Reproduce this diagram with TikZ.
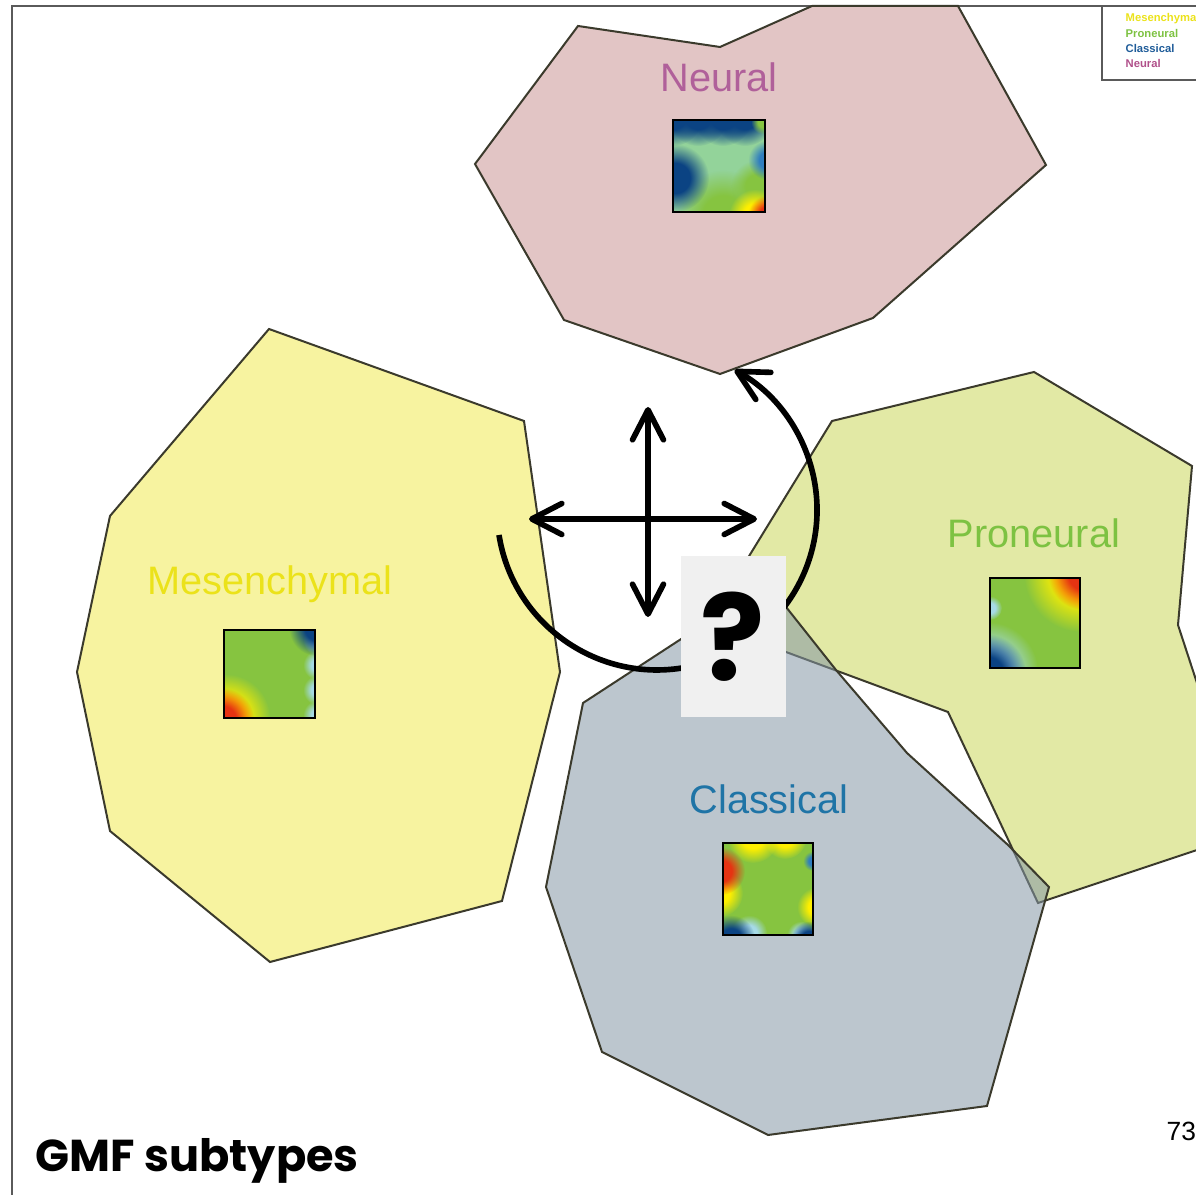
\documentclass[tikz,border=0pt]{standalone}
\usepackage{fontspec}
\setmainfont{Liberation Sans}
\newfontfamily\handfont{Poppins}
\usetikzlibrary{arrows.meta, fadings}

\definecolor{neuralfill}{HTML}{E2C5C5}
\definecolor{mesenfill}{HTML}{F7F3A0}
\definecolor{pronfill}{HTML}{E2E9A5}
\definecolor{classfill}{HTML}{8597A6}
\definecolor{hulledge}{HTML}{3B3A2C}
\definecolor{neuraltext}{HTML}{B0609A}
\definecolor{mesentext}{HTML}{EBE21A}
\definecolor{prontext}{HTML}{7DC242}
\definecolor{classtext}{HTML}{1F74A6}
\definecolor{keyblue}{HTML}{1F5C99}
\definecolor{keypink}{HTML}{B0508A}
\definecolor{framegray}{HTML}{5A5A5A}
\definecolor{qgray}{HTML}{F0F0F0}
% heat map palette
\definecolor{heatred}{HTML}{E63312}
\definecolor{heatyellow}{HTML}{FFEF00}
\definecolor{heatgreen}{HTML}{86C440}
\definecolor{heatmint}{HTML}{93D39A}
\definecolor{heatcyan}{HTML}{A6DAE6}
\definecolor{heatblue}{HTML}{2F7DBF}
\definecolor{heatdeep}{HTML}{0B4383}

% soft round spot: opaque core, fading rim
\pgfdeclareradialshading{heatmask}{\pgfpointorigin}{color(0bp)=(white); color(11bp)=(white); color(25bp)=(black); color(50bp)=(black)}
\pgfdeclarefading{heatfade}{\pgfuseshading{heatmask}}

\tikzset{
  hull/.style={draw=hulledge, line width=0.57pt},
  subtype/.style={font=\fontsize{11.3}{13}\selectfont, anchor=base, inner sep=0pt},
  keyentry/.style={font=\fontsize{3.2}{4}\selectfont\bfseries, anchor=base west, inner sep=0pt},
  blob/.style={path fading=heatfade},
  heatedge/.style={draw=black, line width=0.6pt},
  swirl/.style={line width=1.6pt, black},
  qbox/.style={fill=qgray, minimum width=10.5mm, minimum height=16.1mm, inner sep=0pt,
    font=\handfont\bfseries\fontsize{34}{36}\selectfont},
}

\begin{document}
\begin{tikzpicture}[x=0.1mm, y=-0.1mm, >={Straight Barb[length=3mm, width=3.1mm, round]}]
  \useasboundingbox (0,0) rectangle (1196,1195);
  \clip (0,0) rectangle (1196,1195);

  % slide frame and key box
  \draw[framegray, line width=0.55pt] (12,1195) -- (12,6) -- (1196,6);
  \draw[framegray, line width=0.55pt] (1102,6) -- (1102,80) -- (1196,80);

  % subtype hulls
  \filldraw[hull, fill=neuralfill] (578,26) -- (720,47) -- (812,6) -- (958,6) -- (1046,165)
    -- (873,318) -- (720,374) -- (564,320) -- (475,164) -- cycle;
  \filldraw[hull, fill=mesenfill] (269,329) -- (524,421) -- (560,672) -- (502,901) -- (270,962)
    -- (110,831) -- (77,672) -- (110,516) -- cycle;
  \filldraw[hull, fill=pronfill] (832,421) -- (1034,372) -- (1192,466) -- (1178,625) -- (1215,738)
    -- (1215,844) -- (1038,903) -- (948,712) -- (786,652) -- (708,623) -- cycle;
  \filldraw[hull, fill=classfill, fill opacity=0.55] (583,703) -- (767,583) -- (836,670) -- (907,753)
    -- (1008,845) -- (1049,887) -- (987,1106) -- (768,1135) -- (602,1052) -- (546,887) -- cycle;

  % heat maps
  \begin{scope}[shift={(673,120)}]
    \clip (0,0) rectangle (92,92);
    \fill[heatmint] (0,0) rectangle (92,92);
    \fill[heatgreen, blob] (50,96) circle[radius=46];
    \fill[heatgreen, blob] (84,66) circle[radius=26];
    \foreach \x in {0,25,50,72}{\fill[heatdeep, blob] (\x,-4) circle[radius=30];}
    \fill[heatdeep, blob] (2,58) circle[radius=34];
    \fill[heatblue, blob] (95,40) circle[radius=20];
    \fill[heatgreen, blob] (90,2) circle[radius=12];
    \fill[heatyellow, blob] (82,95) circle[radius=26];
    \fill[heatred, blob] (95,95) circle[radius=20];
  \end{scope}
  \draw[heatedge] (673,120) rectangle +(92,92);

  \begin{scope}[shift={(224,630)}]
    \clip (0,0) rectangle (91,88);
    \fill[heatgreen] (0,0) rectangle (91,88);
    \foreach \y in {10,35,60,85}{\fill[heatcyan, blob] (94,\y) circle[radius=15];}
    \fill[heatdeep, blob] (93,-2) circle[radius=28];
    \fill[heatyellow, blob] (2,88) circle[radius=44];
    \fill[heatred, blob] (-2,90) circle[radius=32];
  \end{scope}
  \draw[heatedge] (224,630) rectangle +(91,88);

  \begin{scope}[shift={(990,578)}]
    \clip (0,0) rectangle (90,90);
    \fill[heatgreen] (0,0) rectangle (90,90);
    \fill[heatyellow, blob] (92,-4) circle[radius=58];
    \fill[heatred, blob] (94,-4) circle[radius=36];
    \fill[heatcyan, blob] (-2,94) circle[radius=50];
    \fill[heatdeep, blob] (-4,96) circle[radius=40];
    \fill[heatcyan, blob] (0,30) circle[radius=12];
  \end{scope}
  \draw[heatedge] (990,578) rectangle +(90,90);

  \begin{scope}[shift={(723,843)}]
    \clip (0,0) rectangle (90,92);
    \fill[heatgreen] (0,0) rectangle (90,92);
    \fill[heatyellow, blob] (30,-6) circle[radius=26];
    \fill[heatyellow, blob] (62,-6) circle[radius=22];
    \fill[heatyellow, blob] (-4,50) circle[radius=24];
    \fill[heatyellow, blob] (94,64) circle[radius=20];
    \fill[heatred, blob] (-2,28) circle[radius=24];
    \fill[heatcyan, blob] (26,90) circle[radius=18];
    \fill[heatcyan, blob] (78,92) circle[radius=14];
    \fill[heatdeep, blob] (8,96) circle[radius=24];
    \fill[heatdeep, blob] (86,96) circle[radius=18];
    \fill[heatblue, blob] (90,18) circle[radius=10];
  \end{scope}
  \draw[heatedge] (723,843) rectangle +(90,92);

  % subtype names
  \node[subtype, text=neuraltext] (neural) at (719,92) {Neural};
  \node[subtype, text=mesentext] (mesen) at (270,595) {Mesenchymal};
  \node[subtype, text=prontext] (proneural) at (1034,548) {Proneural};
  \node[subtype, text=classtext] (classical) at (769,814) {Classical};

  % key
  \node[keyentry, text=mesentext] (keymesen) at (1125,22) {Mesenchymal};
  \node[keyentry, text=prontext] (keypron) at (1125,38) {Proneural};
  \node[keyentry, text=keyblue] (keyclass) at (1125,53) {Classical};
  \node[keyentry, text=keypink] (keyneural) at (1125,68) {Neural};

  % moves between subtypes
  \coordinate (crossW) at (529,519);
  \coordinate (crossE) at (757,519);
  \coordinate (crossN) at (648,407);
  \coordinate (crossS) at (648,617);
  \coordinate (swirlstart) at (499,535);
  \draw[swirl, <->] (crossW) -- (crossE);
  \draw[swirl, <->] (crossN) -- (crossS);
  \draw[swirl, ->] (swirlstart) arc[start angle=171, end angle=-61, radius=160];

  \node[qbox] (query) at (733,637) {?};

  \node[font=\handfont\bfseries\fontsize{12.7}{15}\selectfont, anchor=base west, inner sep=0pt] (title) at (35,1172) {GMF subtypes};
  \node[font=\fontsize{7.5}{9}\selectfont, anchor=base west, inner sep=0pt] (pageno) at (1166,1141) {73};
\end{tikzpicture}
\end{document}
